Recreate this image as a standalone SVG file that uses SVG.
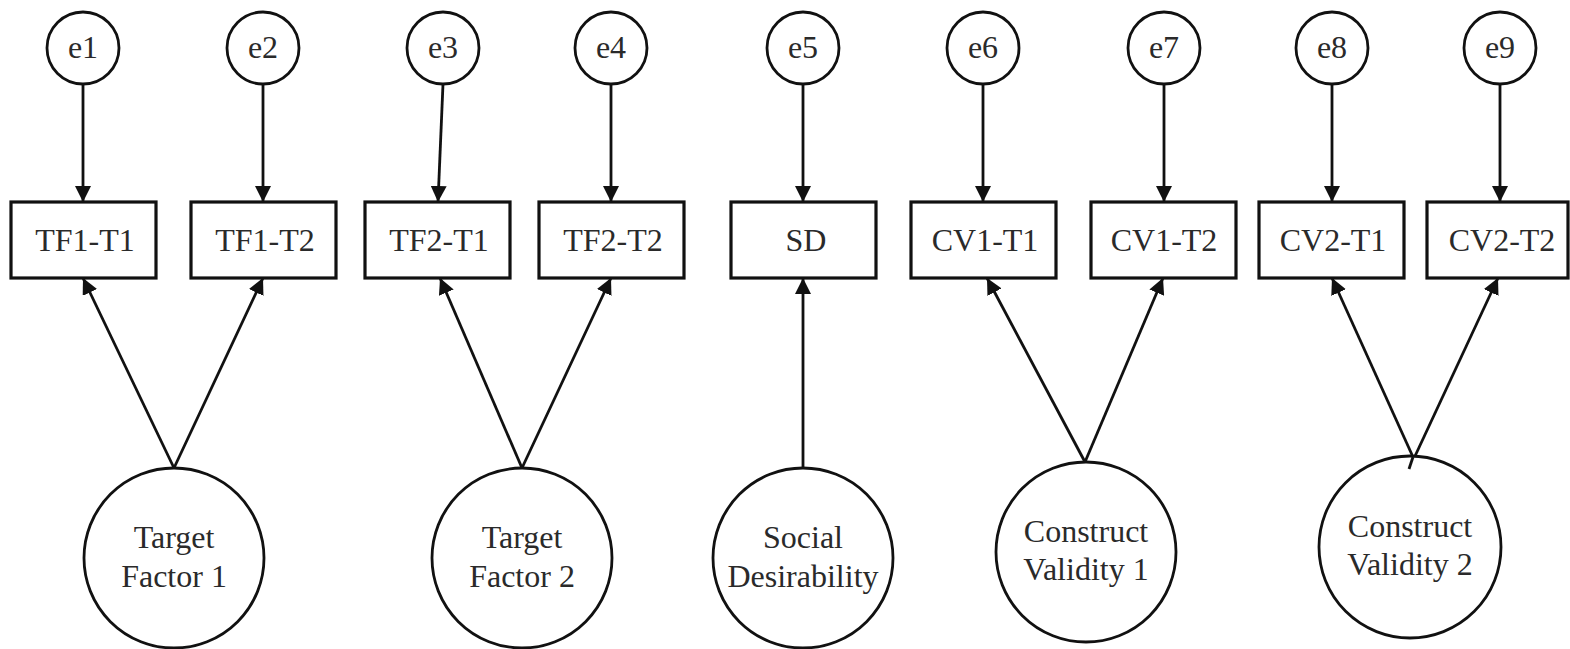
<svg xmlns="http://www.w3.org/2000/svg" width="1570" height="649" viewBox="0 0 1570 649">
  <style>
    .err { fill: #fff; stroke: #111; stroke-width: 2.8; }
    .obs { fill: #fff; stroke: #111; stroke-width: 3.2; }
    .lat { fill: #fff; stroke: #111; stroke-width: 2.8; }
    .lbl { font-family: "Liberation Serif", "Times New Roman", serif; font-size: 32px; fill: #2a2a2a; text-anchor: middle; }
    .path { stroke: #111; stroke-width: 2.8; fill: none; marker-end: url(#arrow); }
    .plain { stroke: #111; stroke-width: 2.8; fill: none; }
  </style>
  <defs>
    <marker id="arrow" markerUnits="userSpaceOnUse" markerWidth="17" markerHeight="16" refX="16" refY="8" orient="auto">
      <path d="M0,0 L16,8 L0,16 z" fill="#111"/>
    </marker>
  </defs>
  <rect width="1570" height="649" fill="#fff"/>

  <!-- regression paths -->
  <g id="connectors">
    <line class="path" x1="83" y1="84" x2="83" y2="202"/>
    <line class="path" x1="263" y1="84" x2="263" y2="202"/>
    <line class="path" x1="443" y1="84" x2="438" y2="202"/>
    <line class="path" x1="611" y1="84" x2="611" y2="202"/>
    <line class="path" x1="803" y1="84" x2="803" y2="202"/>
    <line class="path" x1="983" y1="84" x2="983" y2="202"/>
    <line class="path" x1="1164" y1="84" x2="1164" y2="202"/>
    <line class="path" x1="1332" y1="84" x2="1332" y2="202"/>
    <line class="path" x1="1500" y1="84" x2="1500" y2="202"/>

    <line class="path" x1="174" y1="468" x2="83" y2="278"/>
    <line class="path" x1="174" y1="468" x2="263" y2="278"/>
    <line class="path" x1="522" y1="468" x2="440" y2="278"/>
    <line class="path" x1="522" y1="468" x2="611" y2="278"/>
    <line class="path" x1="803" y1="468" x2="803" y2="278"/>
    <line class="path" x1="1085" y1="462" x2="987" y2="278"/>
    <line class="path" x1="1085" y1="462" x2="1163" y2="278"/>
    <line class="path" x1="1413" y1="457" x2="1332" y2="278"/>
    <line class="path" x1="1409" y1="469" x2="1498" y2="278"/>
  </g>

  <!-- error terms -->
  <g id="e1"><circle class="err" cx="83" cy="48" r="36"/><text class="lbl" x="83" y="58">e1</text></g>
  <g id="e2"><circle class="err" cx="263" cy="48" r="36"/><text class="lbl" x="263" y="58">e2</text></g>
  <g id="e3"><circle class="err" cx="443" cy="48" r="36"/><text class="lbl" x="443" y="58">e3</text></g>
  <g id="e4"><circle class="err" cx="611" cy="48" r="36"/><text class="lbl" x="611" y="58">e4</text></g>
  <g id="e5"><circle class="err" cx="803" cy="48" r="36"/><text class="lbl" x="803" y="58">e5</text></g>
  <g id="e6"><circle class="err" cx="983" cy="48" r="36"/><text class="lbl" x="983" y="58">e6</text></g>
  <g id="e7"><circle class="err" cx="1164" cy="48" r="36"/><text class="lbl" x="1164" y="58">e7</text></g>
  <g id="e8"><circle class="err" cx="1332" cy="48" r="36"/><text class="lbl" x="1332" y="58">e8</text></g>
  <g id="e9"><circle class="err" cx="1500" cy="48" r="36"/><text class="lbl" x="1500" y="58">e9</text></g>

  <!-- observed indicators -->
  <g id="tf1-t1"><rect class="obs" x="11" y="202" width="145" height="76"/><text class="lbl" x="85" y="251">TF1-T1</text></g>
  <g id="tf1-t2"><rect class="obs" x="191" y="202" width="145" height="76"/><text class="lbl" x="265" y="251">TF1-T2</text></g>
  <g id="tf2-t1"><rect class="obs" x="365" y="202" width="145" height="76"/><text class="lbl" x="439" y="251">TF2-T1</text></g>
  <g id="tf2-t2"><rect class="obs" x="539" y="202" width="145" height="76"/><text class="lbl" x="613" y="251">TF2-T2</text></g>
  <g id="sd"><rect class="obs" x="731" y="202" width="145" height="76"/><text class="lbl" x="806" y="251">SD</text></g>
  <g id="cv1-t1"><rect class="obs" x="911" y="202" width="145" height="76"/><text class="lbl" x="985" y="251">CV1-T1</text></g>
  <g id="cv1-t2"><rect class="obs" x="1091" y="202" width="145" height="76"/><text class="lbl" x="1164" y="251">CV1-T2</text></g>
  <g id="cv2-t1"><rect class="obs" x="1259" y="202" width="145" height="76"/><text class="lbl" x="1333" y="251">CV2-T1</text></g>
  <g id="cv2-t2"><rect class="obs" x="1427" y="202" width="141" height="76"/><text class="lbl" x="1502" y="251">CV2-T2</text></g>

  <!-- latent factors -->
  <g id="target-factor-1"><circle class="lat" cx="174" cy="558" r="90"/>
    <text class="lbl" x="174" y="548">Target</text><text class="lbl" x="174" y="587">Factor 1</text></g>
  <g id="target-factor-2"><circle class="lat" cx="522" cy="558" r="90"/>
    <text class="lbl" x="522" y="548">Target</text><text class="lbl" x="522" y="587">Factor 2</text></g>
  <g id="social-desirability"><circle class="lat" cx="803" cy="558" r="90"/>
    <text class="lbl" x="803" y="548">Social</text><text class="lbl" x="803" y="587">Desirability</text></g>
  <g id="construct-validity-1"><circle class="lat" cx="1086" cy="552" r="90"/>
    <text class="lbl" x="1086" y="542">Construct</text><text class="lbl" x="1086" y="580">Validity 1</text></g>
  <g id="construct-validity-2"><circle class="lat" cx="1410" cy="547" r="91"/>
    <text class="lbl" x="1410" y="537">Construct</text><text class="lbl" x="1410" y="575">Validity 2</text></g>

  <!-- short stub where the CV2 path enters its circle -->
  <line class="plain" x1="1413" y1="457" x2="1409" y2="469"/>
</svg>
